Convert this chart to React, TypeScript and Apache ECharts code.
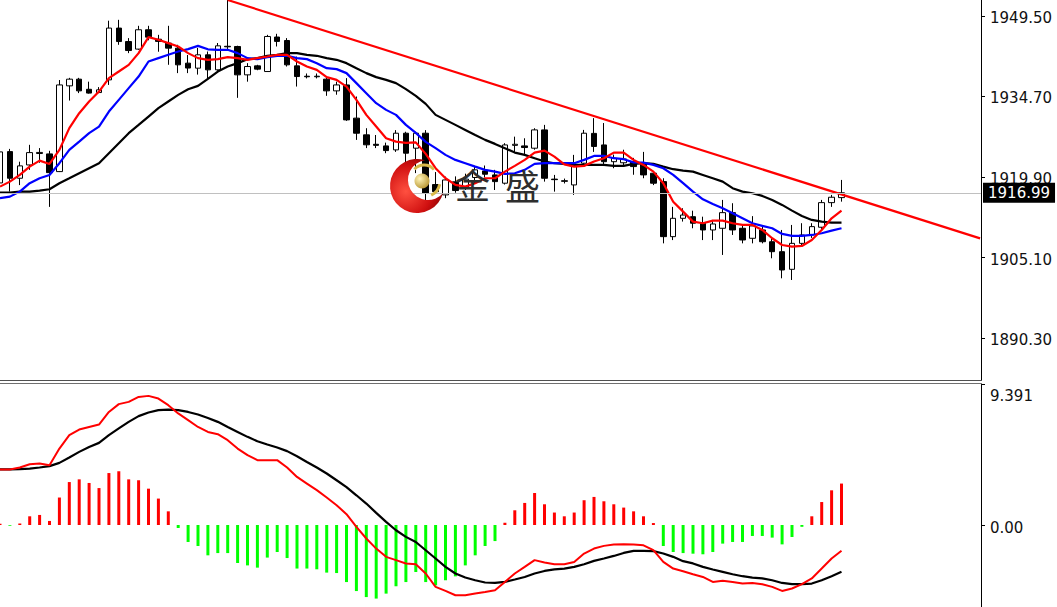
import React, { useEffect, useRef } from 'react';
import * as echarts from 'echarts';

// ---- price candles (bar index = position in array) ----
const opens = [1918.8, 1924.55, 1919.66, 1922.1, 1924.2, 1924.13, 1920.88, 1936.63, 1937.86, 1936.0,
  1935.4, 1937.73, 1947.24, 1944.77, 1943.38, 1946.93, 1945.2, 1944.48, 1943.56, 1940.8,
  1939.88, 1942.33, 1939.57, 1943.9, 1943.86, 1938.65, 1940.3, 1939.26, 1945.6, 1944.96,
  1940.3, 1938.4, 1938.3, 1937.86, 1935.71, 1936.8, 1930.7, 1927.63, 1925.9, 1925.6,
  1924.87, 1927.93, 1925.18, 1927.93, 1918.5, 1916.6, 1919.0, 1918.0, 1919.8, 1921.0,
  1920.27, 1918.75, 1925.7, 1925.6, 1925.18, 1928.54, 1919.5, 1919.2, 1918.43, 1922.42,
  1927.9, 1925.78, 1922.7, 1922.5, 1922.7, 1922.42, 1920.58, 1919.04, 1908.93, 1912.3,
  1912.6, 1911.4, 1910.16, 1910.47, 1913.34, 1910.47, 1908.63, 1910.16, 1908.0, 1906.17,
  1902.93, 1907.7, 1909.24, 1910.66, 1915.18, 1916.1];
const closes = [1924.5, 1919.66, 1921.93, 1924.37, 1924.4, 1920.69, 1936.8, 1937.86, 1935.71, 1935.3,
  1935.9, 1947.24, 1944.77, 1943.12, 1946.93, 1945.58, 1944.8, 1943.56, 1940.49, 1939.9,
  1942.33, 1939.57, 1943.98, 1943.8, 1938.65, 1940.18, 1939.7, 1945.7, 1944.8, 1940.49,
  1938.34, 1938.3, 1938.4, 1935.71, 1936.8, 1930.38, 1927.93, 1925.8, 1925.7, 1924.74,
  1927.93, 1924.26, 1927.93, 1916.9, 1917.2, 1919.35, 1917.4, 1919.5, 1921.2, 1920.4,
  1919.04, 1925.78, 1925.9, 1925.3, 1928.54, 1919.66, 1919.4, 1919.1, 1922.1, 1927.93,
  1925.5, 1922.7, 1923.3, 1923.2, 1921.8, 1920.27, 1918.75, 1908.93, 1912.3, 1912.9,
  1911.4, 1910.16, 1911.26, 1913.34, 1910.16, 1908.32, 1910.9, 1908.0, 1906.17, 1902.81,
  1907.7, 1909.24, 1910.77, 1915.18, 1916.17, 1916.99];
const lows = [1917.5, 1917.2, 1918.4, 1921.2, 1922.5, 1914.4, 1920.8, 1933.93, 1935.3, 1935.2,
  1935.3, 1936.8, 1944.17, 1942.64, 1943.25, 1945.0, 1942.9, 1940.5, 1938.97, 1938.97,
  1938.7, 1937.7, 1939.4, 1943.3, 1934.43, 1937.4, 1939.5, 1939.2, 1943.86, 1940.18,
  1936.5, 1938.0, 1938.0, 1934.8, 1935.0, 1930.2, 1926.7, 1925.2, 1925.2, 1924.26,
  1924.5, 1921.8, 1920.6, 1915.5, 1916.8, 1916.0, 1917.0, 1917.5, 1918.8, 1919.8,
  1917.5, 1918.5, 1924.3, 1923.9, 1924.9, 1919.04, 1917.2, 1918.7, 1916.6, 1922.2,
  1924.5, 1921.9, 1921.5, 1921.8, 1920.3, 1919.66, 1918.4, 1907.7, 1908.3, 1911.7,
  1910.47, 1908.3, 1908.3, 1905.57, 1909.24, 1907.7, 1907.7, 1907.7, 1904.96, 1901.28,
  1900.97, 1907.4, 1908.7, 1910.3, 1914.4, 1915.36];
const highs = [1926.2, 1925.05, 1922.7, 1925.8, 1925.2, 1924.7, 1937.7, 1938.1, 1938.1, 1937.4,
  1936.4, 1948.6, 1948.76, 1945.4, 1947.66, 1947.66, 1946.0, 1947.66, 1944.17, 1942.3,
  1943.6, 1942.94, 1944.5, 1952.4, 1944.0, 1940.8, 1940.5, 1946.0, 1946.19, 1945.4,
  1942.0, 1938.9, 1938.9, 1938.34, 1937.4, 1938.05, 1934.67, 1928.85, 1927.6, 1926.2,
  1928.5, 1928.2, 1928.2, 1928.5, 1920.8, 1919.96, 1920.0, 1920.5, 1921.8, 1922.0,
  1921.2, 1926.1, 1927.3, 1927.0, 1928.85, 1929.46, 1920.27, 1919.6, 1923.95, 1928.54,
  1930.7, 1929.8, 1924.0, 1924.9, 1923.4, 1924.5, 1920.9, 1919.66, 1914.4, 1914.15,
  1913.7, 1912.6, 1912.0, 1915.68, 1915.07, 1911.08, 1912.7, 1911.08, 1908.6, 1910.16,
  1911.08, 1911.4, 1911.4, 1915.68, 1916.6, 1919.35];

// ---- moving averages ----
const maRed = [1918.12, 1919.04, 1920.27, 1921.8, 1922.9, 1922.29, 1924.87, 1928.86, 1931.61, 1933.75,
  1935.58, 1938.05, 1939.26, 1940.49, 1942.64, 1945.58, 1945.09, 1944.48, 1943.86, 1942.64,
  1941.72, 1941.41, 1941.54, 1941.91, 1941.72, 1941.41, 1941.72, 1942.02, 1942.33, 1942.33,
  1941.1, 1940.18, 1939.57, 1938.23, 1937.73, 1936.5, 1934.06, 1931.3, 1929.15, 1927.02,
  1926.39, 1926.15, 1926.25, 1924.13, 1921.5, 1919.66, 1918.43, 1918.12, 1918.75, 1919.66,
  1919.66, 1920.88, 1921.93, 1923.03, 1924.37, 1924.74, 1923.64, 1922.2, 1921.8, 1921.93,
  1922.72, 1923.34, 1924.37, 1924.37, 1923.03, 1922.11, 1920.88, 1918.75, 1915.36, 1913.53,
  1911.69, 1911.39, 1911.87, 1911.87, 1911.39, 1911.08, 1911.08, 1910.16, 1908.64, 1907.4,
  1907.09, 1907.22, 1908.32, 1910.16, 1912.31, 1913.71];
const maBlue = [1915.99, 1916.28, 1917.2, 1918.75, 1919.66, 1920.27, 1922.42, 1924.87, 1926.39, 1927.94,
  1929.15, 1931.91, 1934.06, 1936.21, 1938.34, 1941.1, 1941.72, 1942.33, 1942.94, 1943.38,
  1943.98, 1943.34, 1943.25, 1943.25, 1942.64, 1941.72, 1941.54, 1941.91, 1942.15, 1942.15,
  1941.72, 1941.54, 1940.8, 1939.88, 1939.7, 1938.97, 1937.13, 1935.29, 1933.45, 1932.22,
  1931.3, 1929.46, 1927.99, 1926.34, 1925.18, 1923.95, 1923.03, 1922.42, 1921.8, 1921.19,
  1920.88, 1920.45, 1920.58, 1921.19, 1922.29, 1922.42, 1922.42, 1922.42, 1922.42, 1923.03,
  1923.76, 1923.76, 1923.34, 1923.16, 1922.57, 1922.53, 1922.11, 1921.5, 1920.27, 1918.75,
  1917.2, 1915.8, 1914.94, 1914.15, 1913.23, 1912.31, 1911.39, 1910.9, 1910.47, 1909.43,
  1909.06, 1909.06, 1909.24, 1909.55, 1910.03, 1910.47];
const maBlack = [1917.02, 1917.02, 1917.2, 1917.2, 1917.39, 1917.64, 1918.75, 1919.66, 1920.58, 1921.5,
  1922.42, 1924.26, 1926.1, 1927.94, 1929.46, 1930.99, 1932.53, 1933.75, 1934.98, 1936.02,
  1936.63, 1937.92, 1939.26, 1940.18, 1940.8, 1941.54, 1941.72, 1942.15, 1942.33, 1942.64,
  1942.64, 1942.33, 1942.15, 1941.72, 1941.41, 1940.8, 1939.88, 1938.97, 1938.23, 1937.73,
  1937.13, 1936.02, 1934.79, 1933.32, 1931.3, 1930.38, 1929.46, 1928.54, 1927.62, 1926.71,
  1925.97, 1925.18, 1924.37, 1923.95, 1923.34, 1922.72, 1922.42, 1922.29, 1922.11, 1922.11,
  1922.11, 1922.11, 1921.93, 1921.93, 1922.29, 1922.42, 1922.29, 1921.8, 1921.32, 1921.06,
  1920.88, 1920.27, 1919.66, 1919.04, 1917.83, 1917.2, 1916.91, 1916.41, 1915.68, 1914.76,
  1913.71, 1912.73, 1912.0, 1911.69, 1911.5, 1911.5];

// ---- MACD panel ----
const macdHist = [0.08, -0.05, 0.1, 0.58, 0.67, 0.27, 1.83, 2.86, 3.04, 2.8,
  2.46, 3.46, 3.58, 3.04, 2.98, 2.42, 1.76, 0.91, -0.2, -1.13,
  -1.4, -2.02, -1.87, -1.87, -2.53, -2.69, -2.84, -2.17, -1.8, -2.2,
  -2.9, -2.9, -2.95, -3.17, -3.2, -3.8, -4.4, -4.8, -4.9, -4.57,
  -4.08, -3.8, -3.13, -3.8, -4.02, -3.68, -3.42, -2.69, -2.02, -1.4,
  -1.07, 0.15, 0.98, 1.47, 2.13, 1.38, 0.83, 0.58, 0.83, 1.65,
  1.87, 1.58, 1.38, 1.16, 0.91, 0.58, 0.13, -1.4, -1.8, -1.87,
  -1.91, -1.95, -1.8, -1.24, -1.13, -1.13, -0.73, -0.73, -0.84, -1.29,
  -0.8, -0.12, 0.58, 1.53, 2.31, 2.76];
const macdBlack = [3.7, 3.7, 3.72, 3.76, 3.83, 3.92, 4.14, 4.5, 4.87, 5.2,
  5.47, 5.98, 6.43, 6.87, 7.25, 7.49, 7.65, 7.69, 7.65, 7.53,
  7.36, 7.13, 6.87, 6.53, 6.2, 5.87, 5.58, 5.36, 5.16, 4.92,
  4.58, 4.2, 3.83, 3.43, 2.98, 2.52, 1.98, 1.43, 0.81, 0.21,
  -0.35, -0.79, -1.13, -1.68, -2.23, -2.79, -3.23, -3.5, -3.68, -3.83,
  -3.86, -3.79, -3.63, -3.46, -3.23, -3.06, -2.96, -2.9, -2.79, -2.61,
  -2.39, -2.23, -2.06, -1.86, -1.72, -1.72, -1.74, -1.9, -2.12, -2.41,
  -2.56, -2.79, -2.96, -3.12, -3.28, -3.41, -3.5, -3.56, -3.68, -3.86,
  -3.94, -3.94, -3.9, -3.68, -3.41, -3.12];
const macdRed = [3.7, 3.7, 3.83, 4.05, 4.1, 3.98, 5.09, 5.98, 6.36, 6.53,
  6.69, 7.53, 8.05, 8.2, 8.53, 8.6, 8.42, 7.98, 7.43, 6.98,
  6.53, 6.2, 6.05, 5.65, 5.09, 4.65, 4.32, 4.32, 4.32, 3.83,
  3.2, 2.76, 2.32, 1.83, 1.32, 0.72, -0.13, -0.9, -1.57, -2.12,
  -2.34, -2.56, -2.61, -3.23, -4.12, -4.39, -4.68, -4.68, -4.56, -4.46,
  -4.34, -3.79, -3.23, -2.79, -2.34, -2.5, -2.61, -2.61, -2.46, -1.9,
  -1.57, -1.39, -1.3, -1.28, -1.3, -1.35, -1.68, -2.46, -2.9, -3.08,
  -3.28, -3.46, -3.79, -3.72, -3.79, -3.9, -3.86, -3.94, -4.12, -4.39,
  -4.23, -3.94, -3.56, -2.9, -2.23, -1.72];

// ---- axes / annotations ----
const priceTicks = [1890.3, 1905.1, 1919.9, 1934.7, 1949.5];
const macdTicks = [0, 9.391];
const lastPrice = 1916.99;
const trendBars = [23, 99];
const trendPrices = [1952.4, 1908.62];

const FONT = 'DejaVu Sans';

let registered = false;
function registerShapes() {
  if (registered) return;
  registered = true;
  echarts.graphic.registerShape(
    'crescent',
    echarts.graphic.extendPath('M8.03 -25.78 A27 27 0 1 0 26.02 7.2 A20 20 0 1 1 8.03 -25.78 Z', {})
  );
}

export default function App() {
  const ref = useRef<HTMLDivElement>(null);
  useEffect(() => {
    document.body.style.margin = '0';
    registerShapes();
    const chart = echarts.init(ref.current!, null, { renderer: 'svg' });
    const xMax = 981 / 9.9;
    const candleData = opens.map((o, i) => [i, o, closes[i], lows[i], highs[i]]);
    const line = (arr: number[]) => arr.map((v, i) => [i, v]);
    chart.setOption({
      animation: false,
      backgroundColor: '#ffffff',
      grid: [
        { left: 0, top: 0, width: 981, height: 380, outerBoundsMode: 'none' },
        { left: 0, top: 384, width: 981, height: 223, outerBoundsMode: 'none' },
      ],
      xAxis: [
        { type: 'value', gridIndex: 0, min: 0, max: xMax, show: false },
        { type: 'value', gridIndex: 1, min: 0, max: xMax, show: false },
      ],
      yAxis: [
        {
          type: 'value', gridIndex: 0, position: 'right', min: 1882.6, max: 1952.4,
          axisLine: { show: true, onZero: false, lineStyle: { color: '#000', width: 1 } },
          axisTick: { show: true, customValues: priceTicks, length: 4, lineStyle: { color: '#000' } },
          axisLabel: {
            customValues: priceTicks, margin: 9, color: '#111', fontSize: 15, fontFamily: FONT,
            formatter: (v: number) => `{p|${Number(v).toFixed(2)}}`,
            rich: { p: { fontSize: 15, fontFamily: FONT, color: '#111', padding: [4, 0, 0, 0] } },
          },
          splitLine: { show: false },
        },
        {
          type: 'value', gridIndex: 1, position: 'right', min: -5.461, max: 9.391,
          axisLine: { show: true, onZero: false, lineStyle: { color: '#000', width: 1 } },
          axisTick: { show: true, customValues: macdTicks, length: 4, lineStyle: { color: '#000' } },
          axisLabel: {
            customValues: macdTicks, margin: 9, color: '#111', fontSize: 15, fontFamily: FONT,
            formatter: (v: number) => (v > 0 ? `{t|${Number(v).toFixed(3)}}` : `{z|${Number(v).toFixed(2)}}`),
            rich: {
              t: { fontSize: 15, fontFamily: FONT, color: '#111', padding: [24, 0, 0, 0] },
              z: { fontSize: 15, fontFamily: FONT, color: '#111', padding: [5, 0, 0, 0] },
            },
          },
          splitLine: { show: false },
        },
      ],
      series: [
        {
          type: 'candlestick', xAxisIndex: 0, yAxisIndex: 0, data: candleData,
          encode: { x: 0, y: [1, 2, 3, 4] }, barWidth: 6, silent: true,
          itemStyle: { color: '#ffffff', color0: '#000000', borderColor: '#000000', borderColor0: '#000000', borderWidth: 1 },
          markLine: {
            symbol: 'none', silent: true, animation: false,
            lineStyle: { color: '#c0c0c0', width: 1, type: 'solid' },
            label: {
              position: 'end', distance: 2, formatter: lastPrice.toFixed(2), color: '#fff',
              backgroundColor: '#000', padding: [3, 5, 2, 5], fontSize: 15, fontFamily: FONT,
            },
            data: [{ yAxis: lastPrice }],
          },
        },
        { type: 'line', xAxisIndex: 0, yAxisIndex: 0, data: line(maBlack), showSymbol: false, silent: true, lineStyle: { color: '#000000', width: 2.2 } },
        { type: 'line', xAxisIndex: 0, yAxisIndex: 0, data: line(maBlue), showSymbol: false, silent: true, lineStyle: { color: '#0000ff', width: 2.2 } },
        { type: 'line', xAxisIndex: 0, yAxisIndex: 0, data: line(maRed), showSymbol: false, silent: true, lineStyle: { color: '#ff0000', width: 2.2 } },
        {
          type: 'line', xAxisIndex: 0, yAxisIndex: 0, showSymbol: false, silent: true,
          data: trendBars.map((b, k) => [b, trendPrices[k]]),
          lineStyle: { color: '#ff0000', width: 2.2 },
        },
        {
          type: 'bar', xAxisIndex: 1, yAxisIndex: 1, barWidth: 3, silent: true,
          data: macdHist.map((v, i) => ({ value: [i, v], itemStyle: { color: v >= 0 ? '#ff0000' : '#00ff00' } })),
        },
        { type: 'line', xAxisIndex: 1, yAxisIndex: 1, data: line(macdBlack), showSymbol: false, silent: true, lineStyle: { color: '#000000', width: 2.2 } },
        { type: 'line', xAxisIndex: 1, yAxisIndex: 1, data: line(macdRed), showSymbol: false, silent: true, lineStyle: { color: '#ff0000', width: 2 } },
      ],
      graphic: [
        { type: 'line', silent: true, z: 50, shape: { x1: 0, y1: 380.5, x2: 982, y2: 380.5 }, style: { stroke: '#505050', lineWidth: 1 } },
        { type: 'line', silent: true, z: 50, shape: { x1: 0, y1: 383.5, x2: 982, y2: 383.5 }, style: { stroke: '#707070', lineWidth: 1 } },
        {
          type: 'crescent', x: 417, y: 186, silent: true, z: 100,
          style: {
            fill: new echarts.graphic.RadialGradient(0.3, 0.6, 0.8, [
              { offset: 0, color: '#ff5040' }, { offset: 0.6, color: '#d01010' }, { offset: 1, color: '#7a0000' },
            ]),
          },
        },
        {
          type: 'circle', silent: true, z: 101, shape: { cx: 422, cy: 181, r: 7.5 },
          style: {
            fill: new echarts.graphic.RadialGradient(0.35, 0.35, 0.8, [
              { offset: 0, color: '#fff4b8' }, { offset: 1, color: '#b08a20' },
            ]),
          },
        },
        { type: 'arc', silent: true, z: 101, shape: { cx: 424, cy: 178, r: 13, startAngle: -2.4, endAngle: -0.7 }, style: { stroke: '#d8b848', lineWidth: 3, fill: 'none' } },
        { type: 'arc', silent: true, z: 101, shape: { cx: 424, cy: 181, r: 16, startAngle: 0.2, endAngle: 1.1 }, style: { stroke: '#d8b848', lineWidth: 3, fill: 'none' } },
        { type: 'text', silent: true, z: 100, x: 455, y: 166, style: { text: '金', fontSize: 35, fontFamily: 'Noto Sans CJK SC', fill: '#2e2e2e' } },
        { type: 'text', silent: true, z: 100, x: 505, y: 167, style: { text: '盛', fontSize: 35, fontFamily: 'Noto Sans CJK SC', fill: '#2e2e2e' } },
      ],
    });
    return () => chart.dispose();
  }, []);
  return <div ref={ref} style={{ width: 1057, height: 607 }} />;
}
